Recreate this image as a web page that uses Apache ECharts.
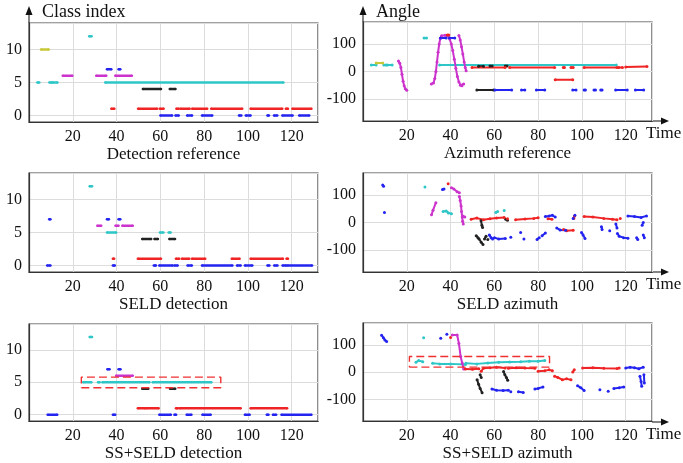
<!DOCTYPE html>
<html>
<head>
<meta charset="utf-8">
<script src="https://cdn.jsdelivr.net/npm/echarts@6/dist/echarts.min.js"></script>
<style>
  html, body { margin: 0; padding: 0; background: #fff; }
  #chart { width: 683px; height: 463px; }
</style>
</head>
<body>
<div id="chart"></div>
<script>
// ---------- data ----------
// detection panels: [xStart, xEnd, classIndex]
var drYellow  = [[5.5, 9, 10]];
var drCyan    = [[27.5, 28.6, 12], [3.8, 4.7, 5], [9.3, 10.4, 5], [10.8, 13, 5], [34.8, 116.2, 5]];
var drMagenta = [[15.4, 19.8, 6], [30.7, 35.3, 6], [39.4, 47, 6]];
var drBlue    = [[35.6, 37.6, 7], [40.9, 41.7, 7], [60, 65.4, 0], [66.9, 68.4, 0], [72.2, 74.5, 0], [79, 83.7, 0],
                 [95.9, 97, 0], [99, 101.2, 0], [108.9, 109.6, 0], [111.9, 113.4, 0], [115.7, 120.4, 0], [123.4, 128, 0]];
var drBlack   = [[52, 60.3, 4], [64.3, 66.9, 4]];
var drRed     = [[37.6, 39, 1], [49.8, 58.5, 1], [59.7, 61.5, 1], [67.3, 68.4, 1], [69.2, 73.4, 1], [74.5, 81.4, 1],
                 [83.2, 97.4, 1], [101.2, 115.7, 1], [117.3, 118.3, 1], [120.3, 129, 1]];

var sdCyan    = [[27.7, 28.8, 12], [35.6, 39.8, 5], [59.8, 61.4, 5], [63.8, 64.7, 5]];
var sdMagenta = [[31.2, 33, 6], [39.5, 40.9, 6], [42.6, 47.4, 6]];
var sdBlue    = [[9.2, 9.8, 7], [35.6, 36.5, 7], [40.9, 41.7, 7], [8.3, 9.8, 0], [38.3, 39.2, 0], [57, 58, 0],
                 [59.5, 65.6, 0], [66.4, 67.9, 0], [72.4, 74.4, 0], [79, 92.9, 0], [95, 96.7, 0], [98.6, 102, 0],
                 [108.9, 109.8, 0], [112, 113.5, 0], [115.8, 117.4, 0], [118, 129.3, 0]];
var sdBlack   = [[51.7, 55.8, 4], [57.3, 58.9, 4], [64.1, 66.7, 4]];
var sdRed     = [[38.3, 38.9, 1], [49.7, 60.3, 1], [67.1, 68.6, 1], [69.8, 73.2, 1], [74.4, 80.5, 1],
                 [92.6, 96.2, 1], [101.2, 116, 1], [117.6, 118.3, 1]];

var ssdCyan    = [[27.7, 28.8, 12], [24.7, 28.5, 5], [31.5, 32.3, 5], [33.5, 55, 5], [56.5, 83.3, 5]];
var ssdMagenta = [[39.8, 47.4, 6]];
var ssdBlue    = [[35.8, 36.8, 7], [40.9, 41.8, 7], [8.5, 12.9, 0], [38.3, 39.4, 0], [59.5, 64.8, 0], [66.4, 67.2, 0],
                  [72, 74.2, 0], [79.2, 83, 0], [98.6, 100.8, 0], [108.6, 109.4, 0], [111.4, 112.9, 0], [115.3, 129, 0]];
var ssdBlack   = [[51.7, 54.5, 4], [64.4, 66.8, 4]];
var ssdRed     = [[49.7, 53, 1], [53.6, 59.2, 1], [67.1, 68, 1], [68.8, 96.7, 1], [101.2, 117.9, 1]];
var ssdBox     = [23.9, 87.6, 4.15, 5.8];

// azimuth panels: polylines of [time, angle]
var arYellow  = [[[6, 31], [9, 31]]];
var arCyan    = [[[3.8, 24], [6, 24]], [[9.5, 24], [10.5, 24]], [[11.2, 24], [13.3, 24]], [[27.9, 122], [29, 122]],
                 [[35, 24], [115.7, 24]]];
var arMagenta = [
  [[16.2, 38], [16.8, 30], [17.3, 15], [17.8, -10], [18.3, -35], [18.8, -52], [19.3, -63], [20, -68]],
  [[31.2, -45], [32.2, -42], [32.8, -25], [33.3, 0], [33.8, 35], [34.3, 70], [34.8, 100], [35.3, 120], [35.9, 130],
   [37.5, 132], [38.8, 130], [39.6, 118], [40.3, 100], [41, 76], [41.7, 45], [42.4, 12], [43.1, -18], [43.8, -38],
   [44.5, -50], [45.2, -52], [46, -45]],
  [[43.8, 131], [44.4, 115], [45, 90], [45.6, 64], [46.2, 35], [46.7, 15], [47.1, 3]]
];
var arRed     = [[[38.5, 133], [39.2, 133]], [[49.8, 15], [64.9, 15]], [[67, 15], [87.5, 15]], [[91.5, 15], [92, 15]],
                 [[95, 15], [96, 15]], [[101, 15], [116, 15]], [[116.8, 15], [118.5, 15]], [[120, 16], [129.7, 18]],
                 [[87.8, -30], [95.8, -30]]];
var arBlack   = [[[52.8, 19], [55, 19]], [[58, 20], [59, 20]], [[65, 20], [65.8, 20]], [[52, -67], [59.6, -67]]];
var arBlue    = [[[35.4, 122], [38, 122]], [[39.5, 122], [41.9, 122]], [[60.3, -67], [67.9, -67]], [[72.4, -67], [73.9, -67]],
                 [[79.2, -67], [83, -67]], [[95.8, -67], [97.3, -67]], [[101, -67], [101.6, -67]], [[105.5, -67], [106.2, -67]],
                 [[108.6, -67], [109.2, -67]], [[115.4, -67], [120.7, -67]], [[124.4, -67], [128.2, -67]]];

var saCyan    = [[[28.3, 129]], [[36.6, 40], [38, 42], [39, 35], [40.4, 32]], [[60.7, 36], [61.5, 40]], [[64.5, 44]]];
var saMagenta = [[[31.3, 28], [32, 45], [33.3, 72]], [[40.4, 126], [41.5, 122], [43, 112], [44, 108]],
                 [[44, 95], [44.4, 80], [44.8, 60], [45, 40], [45.3, 20], [45.5, 5], [45.8, -5]], [[45.6, 24], [46.5, 20]]];
var saRed     = [[[38.9, 141]], [[49.4, 12], [52, 16], [55, 10], [58, 14], [61, 16], [64.5, 18]], [[66, 14]],
                 [[69.7, 10], [74, 13], [78, 15], [80, 17]], [[84.5, 14], [86.3, 12]], [[91.6, -25], [93, -30], [96, -28]],
                 [[96.3, 15], [96.6, 24]], [[101, 22], [105, 20], [110, 15], [114, 12], [116, 10]], [[117.5, 15]]];
var saBlack   = [[[53.9, 6], [54.3, -10], [54.6, -18]], [[51.7, -48], [52.5, -55], [53, -60], [54, -72], [54.8, -80]],
                 [[55.5, -60], [56.2, -50]], [[57, -62]], [[65.2, 12], [66, 8]]];
var saBlue    = [[[9, 136], [9.4, 132]], [[9.8, 36]], [[36.3, 120], [37, 122]], [[57.7, -45], [58.5, -55], [59.2, -60]],
                 [[60, -55], [62, -60], [65, -58]], [[67.5, -54]], [[72, -36]], [[73.5, -60]], [[79.5, -62], [80.5, -55]],
                 [[81.8, -48], [83.3, -38]], [[83.3, 22], [85, 24], [86.5, 26], [87.8, 20]],
                 [[88.5, -20], [90, -27], [92.5, -28]], [[96, 15], [96.8, 26]], [[99.8, -36], [100.5, -45], [101.4, -58]],
                 [[108.9, -15], [109.2, -25]], [[112.7, -30]], [[115.5, -5], [116, -20]],
                 [[116.2, -40], [117, -50], [119, -55], [121, -57]], [[121, 24], [124, 22], [127, 18], [129.5, 24]],
                 [[125, -55], [125.5, -62]], [[128, -45], [128.5, -55]], [[127.5, -10], [128, 0]]];

var ssaCyan    = [[[27.7, 126]], [[24.2, 36], [25.5, 42], [27.3, 38]], [[31.8, 32], [35, 30], [40, 30], [46.8, 28]],
                  [[47, 32], [52, 30], [57, 33], [62, 36], [67, 37], [72, 38], [76, 40], [80, 40], [83, 42]]];
var ssaMagenta = [[[40.8, 136], [43, 136], [43.8, 105], [44.6, 57], [45.3, 33], [46, 11]]];
var ssaRed     = [[[40, 127]], [[46.8, 11], [50, 10], [52.9, 12]], [[54, 3], [55, 14], [58, 16], [61, 18], [64.9, 15]],
                  [[66.4, 14], [70, 16], [74, 15], [78.5, 14]], [[80, 3], [83, 5], [85, 8], [86.5, 5]],
                  [[87.5, -15], [89, -20], [91, -28], [93, -25], [95, -28]], [[95.8, 0], [96.5, 8]],
                  [[100.3, 15], [105, 16], [110, 14], [116.1, 13]], [[117, 15]]];
var ssaBlack   = [[[52.1, -28], [52.8, -45], [53.5, -60], [54.4, -76]], [[53.5, -10], [54, -20]],
                  [[64.2, 2], [64.8, -10], [65.5, -20], [66.1, -30]]];
var ssaBlue    = [[[8.5, 135], [9.3, 126], [10, 118], [10.8, 112]], [[35.5, 124]], [[38.3, 139]],
                  [[58.9, -62], [61, -67], [64, -68], [66.4, -67]], [[67.5, -72]], [[71, -72], [73.2, -75]],
                  [[78.5, -62], [80, -60], [82.2, -55]], [[98, -50], [99.5, -58], [101, -68]], [[108.2, -65]], [[112, -70]],
                  [[114.6, -60], [117, -58], [119.1, -55]], [[120, 15], [122, 18], [124, 16], [126, 12], [128, 18]],
                  [[126.5, -15], [127, -35], [127.3, -52]], [[128.3, -10], [128.5, -40]]];
var ssaBox     = [21.2, 85.2, 18, 57];

var xTickLabels = [20, 40, 60, 80, 100, 120];
var classTicks = [0, 5, 10];
var angleTicks = [-100, 0, 100];
var subtitles = ["Detection reference", "Azimuth reference", "SELD detection", "SELD azimuth",
                 "SS+SELD detection", "SS+SELD azimuth"];

// ---------- helpers ----------
var COL = {
  cyan: "#2ec6c6", yellow: "#c8c837", magenta: "#cc33cc",
  blue: "#2424f0", red: "#f02424", black: "#222222"
};
var FONT = "Liberation Serif";

function segData(segs) {
  var out = [];
  segs.forEach(function (s) {
    out.push([s[0], s[2]], [s[1], s[2]], [s[1], "-"]);
  });
  return out;
}
function polyData(lines) {
  var out = [];
  lines.forEach(function (l) {
    l.forEach(function (p) { out.push(p); });
    out.push([l[l.length - 1][0], "-"]);
  });
  return out;
}
function boxData(b) {
  return [[b[0], b[2]], [b[1], b[2]], [b[1], b[3]], [b[0], b[3]], [b[0], b[2]]];
}

// layout of the 6 panels (left col = detection, right col = azimuth)
var panels = [
  { left: 29, top: 23, kind: "det", sets: [[drCyan, "cyan"], [drYellow, "yellow"], [drMagenta, "magenta"], [drBlack, "black"], [drRed, "red"], [drBlue, "blue"]] },
  { left: 363, top: 22, kind: "az", sets: [[arCyan, "cyan"], [arYellow, "yellow"], [arMagenta, "magenta"], [arBlack, "black"], [arRed, "red"], [arBlue, "blue"]] },
  { left: 29, top: 173, kind: "det", sets: [[sdCyan, "cyan"], [sdMagenta, "magenta"], [sdBlack, "black"], [sdRed, "red"], [sdBlue, "blue"]] },
  { left: 363, top: 173, kind: "az", sets: [[saCyan, "cyan"], [saMagenta, "magenta"], [saBlack, "black"], [saRed, "red"], [saBlue, "blue"]] },
  { left: 29, top: 324, kind: "det", box: ssdBox, sets: [[ssdCyan, "cyan"], [ssdMagenta, "magenta"], [ssdBlack, "black"], [ssdRed, "red"], [ssdBlue, "blue"]] },
  { left: 363, top: 323, kind: "az", box: ssaBox, sets: [[ssaCyan, "cyan"], [ssaMagenta, "magenta"], [ssaBlack, "black"], [ssaRed, "red"], [ssaBlue, "blue"]] }
];
var GRID_W = 289, GRID_H = 99;

var grids = [], xAxes = [], yAxes = [], series = [], graphics = [];

panels.forEach(function (p, i) {
  var det = p.kind === "det";
  grids.push({
    left: p.left, top: p.top, width: GRID_W, height: GRID_H,
    show: true, borderColor: "#444", borderWidth: 1.2, backgroundColor: "#fff"
  });
  xAxes.push({
    gridIndex: i, type: "value", min: 0, max: 132, interval: 20,
    name: subtitles[i], nameLocation: "middle", nameGap: 22,
    nameTextStyle: { fontFamily: FONT, fontSize: 17, color: "#111" },
    axisLine: { onZero: false, lineStyle: { color: "#333", width: 1.2 } },
    axisTick: { show: false },
    axisLabel: {
      fontFamily: FONT, fontSize: 16, color: "#111", margin: 7,
      formatter: function (v) { return xTickLabels.indexOf(v) >= 0 ? String(v) : ""; }
    },
    splitLine: { lineStyle: { color: "#dcdcdc", width: 1 } }
  });
  var ticks = det ? classTicks : angleTicks;
  yAxes.push({
    gridIndex: i, type: "value",
    min: det ? -1 : -180, max: det ? 14 : 180, splitNumber: det ? 3 : 4,
    axisLine: { show: true, onZero: false, lineStyle: { color: "#333", width: 1.2 } },
    axisTick: { show: false },
    axisLabel: {
      fontFamily: FONT, fontSize: 16, color: "#111", margin: 7,
      formatter: function (v) { return ticks.indexOf(v) >= 0 ? String(v) : ""; }
    },
    splitLine: { lineStyle: { color: "#dcdcdc", width: 1 } }
  });

  p.sets.forEach(function (s) {
    series.push({
      type: "line", xAxisIndex: i, yAxisIndex: i,
      data: det ? segData(s[0]) : polyData(s[0]),
      showSymbol: true, showAllSymbol: true, symbol: "circle",
      symbolSize: det ? 2.5 : 3,
      lineStyle: { color: COL[s[1]], width: det ? 2.5 : 2 },
      itemStyle: { color: COL[s[1]] },
      connectNulls: false, silent: true, animation: false
    });
  });
  if (p.box) {
    series.push({
      type: "line", xAxisIndex: i, yAxisIndex: i, data: boxData(p.box),
      showSymbol: false, silent: true, animation: false, z: 5,
      lineStyle: { color: "#f03030", width: 1.4, type: [8, 4] }
    });
  }

  var bottom = p.top + GRID_H;
  if (!det) {
    // arrow on the time axis and its name
    var xe = p.left + GRID_W;
    graphics.push({ type: "line", shape: { x1: xe, y1: bottom, x2: xe + 11, y2: bottom }, style: { stroke: "#333", lineWidth: 1.2 } });
    graphics.push({ type: "polygon", shape: { points: [[xe + 9, bottom - 3.5], [xe + 9, bottom + 3.5], [xe + 17, bottom]] }, style: { fill: "#111" } });
    graphics.push({ type: "text", left: xe - 6, top: bottom + 4, style: { text: "Time", font: "17px " + FONT, fill: "#111" } });
  }
  if (i < 2) {
    // arrow on the y axis of the top row
    graphics.push({ type: "line", shape: { x1: p.left, y1: p.top, x2: p.left, y2: 12 }, style: { stroke: "#333", lineWidth: 1.2 } });
    graphics.push({ type: "polygon", shape: { points: [[p.left - 3.5, 15], [p.left + 3.5, 15], [p.left, 6]] }, style: { fill: "#111" } });
    graphics.push({ type: "text", left: p.left + 13, top: 3, style: { text: det ? "Class index" : "Angle", font: "18px " + FONT, fill: "#111" } });
  }
});

var chart = echarts.init(document.getElementById("chart"), null, { renderer: "canvas" });
chart.setOption({
  animation: false,
  backgroundColor: "#fff",
  grid: grids,
  xAxis: xAxes,
  yAxis: yAxes,
  series: series,
  graphic: graphics
});
window.addEventListener("resize", function () { chart.resize(); });
</script>
</body>
</html>
